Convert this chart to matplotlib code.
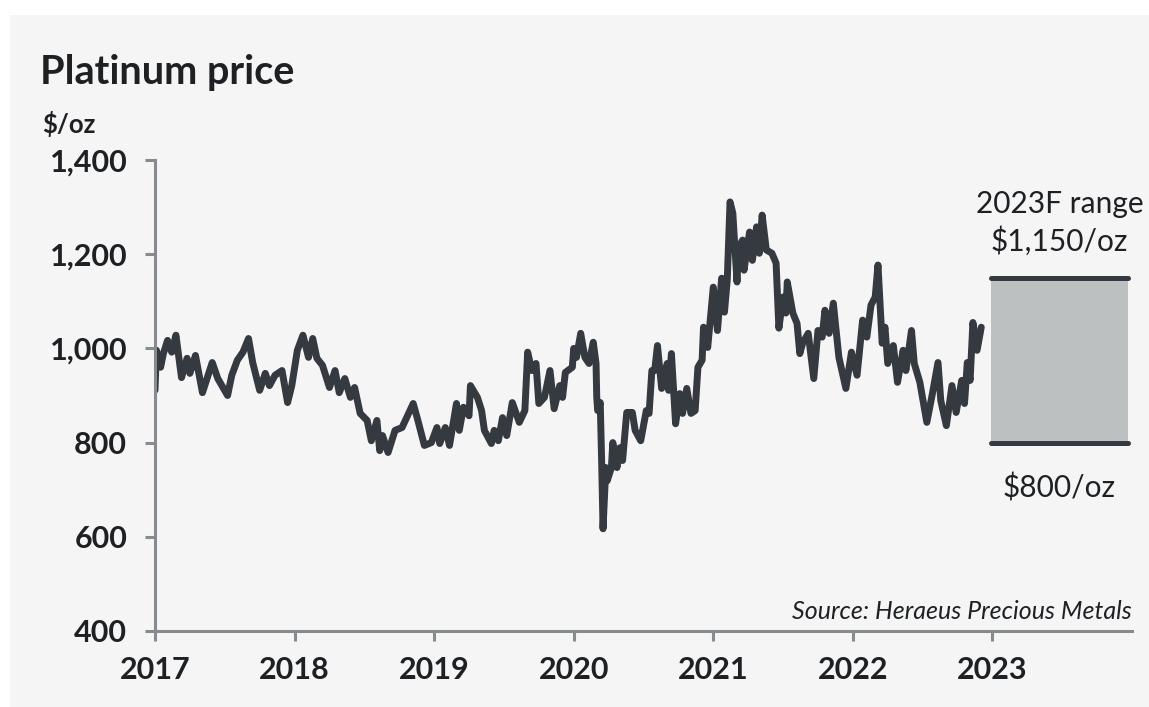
import matplotlib
matplotlib.use("Agg")
from matplotlib import pyplot as plt
from matplotlib.patches import Rectangle

plt.rcParams['font.family'] = ['Lato', 'DejaVu Sans']

# platinum price, $/oz (decimal year, value)
dates = [2017.00, 2017.01, 2017.04, 2017.06, 2017.09, 2017.12, 2017.15, 2017.19, 2017.23, 2017.25,
         2017.29, 2017.34, 2017.41, 2017.45, 2017.52, 2017.55, 2017.59, 2017.63, 2017.67, 2017.70,
         2017.75, 2017.79, 2017.82, 2017.86, 2017.91, 2017.95, 2017.98, 2018.02, 2018.06, 2018.10,
         2018.13, 2018.16, 2018.20, 2018.25, 2018.29, 2018.32, 2018.36, 2018.40, 2018.43, 2018.47,
         2018.52, 2018.55, 2018.59, 2018.61, 2018.63, 2018.67, 2018.72, 2018.77, 2018.80, 2018.85,
         2018.88, 2018.93, 2018.98, 2019.02, 2019.04, 2019.08, 2019.11, 2019.16, 2019.18, 2019.21,
         2019.25, 2019.26, 2019.31, 2019.34, 2019.36, 2019.41, 2019.43, 2019.46, 2019.49, 2019.52,
         2019.56, 2019.61, 2019.65, 2019.67, 2019.70, 2019.73, 2019.75, 2019.79, 2019.83, 2019.86,
         2019.90, 2019.92, 2019.94, 2019.99, 2020.00, 2020.02, 2020.05, 2020.08, 2020.11, 2020.14,
         2020.16, 2020.165, 2020.172, 2020.19, 2020.20, 2020.21, 2020.23, 2020.24, 2020.27, 2020.28,
         2020.31, 2020.33, 2020.35, 2020.38, 2020.42, 2020.44, 2020.48, 2020.52, 2020.54, 2020.56,
         2020.58, 2020.60, 2020.63, 2020.67, 2020.68, 2020.70, 2020.73, 2020.76, 2020.78, 2020.81,
         2020.84, 2020.87, 2020.89, 2020.92, 2020.93, 2020.96, 2021.00, 2021.03, 2021.06, 2021.08,
         2021.10, 2021.12, 2021.14, 2021.17, 2021.18, 2021.21, 2021.22, 2021.26, 2021.28, 2021.31,
         2021.33, 2021.35, 2021.38, 2021.42, 2021.45, 2021.47, 2021.50, 2021.52, 2021.53, 2021.57,
         2021.60, 2021.62, 2021.64, 2021.68, 2021.72, 2021.75, 2021.78, 2021.80, 2021.83, 2021.86,
         2021.90, 2021.95, 2021.99, 2022.03, 2022.07, 2022.10, 2022.13, 2022.16, 2022.18, 2022.21,
         2022.23, 2022.25, 2022.29, 2022.32, 2022.36, 2022.38, 2022.42, 2022.44, 2022.48, 2022.53,
         2022.57, 2022.61, 2022.63, 2022.67, 2022.71, 2022.74, 2022.78, 2022.80, 2022.82, 2022.84,
         2022.86, 2022.89, 2022.92]
prices = [911, 996, 960, 989, 1017, 992, 1028, 938, 979, 947,
          985, 906, 970, 936, 900, 943, 975, 992, 1021, 970,
          911, 947, 921, 943, 953, 885, 921, 996, 1028, 981,
          1021, 979, 964, 917, 953, 906, 936, 896, 917, 862,
          847, 804, 847, 783, 815, 779, 826, 832, 851, 883,
          851, 794, 800, 832, 798, 832, 794, 883, 826, 875,
          857, 921, 896, 868, 826, 798, 826, 804, 853, 815,
          885, 843, 868, 992, 953, 968, 883, 896, 953, 872,
          921, 896, 949, 960, 1000, 981, 1032, 981, 968, 1013,
          968, 896, 868, 885, 762, 617, 747, 719, 747, 800,
          747, 789, 762, 864, 864, 826, 804, 868, 862, 953,
          953, 1006, 915, 968, 911, 989, 840, 904, 862, 915,
          862, 868, 960, 975, 1045, 1002, 1130, 1038, 1149, 1077,
          1145, 1311, 1287, 1141, 1213, 1230, 1166, 1247, 1187, 1258,
          1202, 1283, 1209, 1202, 1181, 1043, 1109, 1075, 1141, 1075,
          1053, 989, 1011, 1032, 936, 1038, 1024, 1081, 1032, 1096,
          981, 915, 992, 943, 1060, 1024, 1092, 1109, 1177, 1011,
          1045, 968, 1006, 928, 996, 953, 1038, 968, 928, 843,
          904, 970, 889, 836, 921, 864, 932, 883, 970, 932,
          1055, 996, 1045]

# 2023 forecast range
range_low = 800
range_high = 1150
range_title = "2023F range"
range_labels = ["$1,150/oz", "$800/oz"]

years = [2017, 2018, 2019, 2020, 2021, 2022, 2023]
yticks = [400, 600, 800, 1000, 1200, 1400]

dark = "#343a40"
axis_grey = "#878b8d"
text_col = "#1e2124"

fig = plt.figure(figsize=(11.49, 7.07), dpi=100, facecolor="white")
# light grey panel behind everything
fig.patches.append(Rectangle((10 / 1149, 0), 1, 1 - 15 / 707, transform=fig.transFigure,
                             facecolor="#f5f5f5", edgecolor="none", zorder=-10))

ax = fig.add_axes([155 / 1149, 1 - 631 / 707, (1132 - 155) / 1149, (631 - 160) / 707])
ax.set_facecolor("none")
ax.set_zorder(5)

ax.plot(dates, prices, color=dark, linewidth=5.0, solid_joinstyle="round", solid_capstyle="round")

# forecast range box
ax.fill_between([2022.99, 2023.97], range_low, range_high, color="#bcc0c1", linewidth=0)
ax.hlines([range_low, range_high], 2022.99, 2023.97, color=dark, linewidth=3.6, capstyle="round")
ax.text(2023.48, 1287, range_title, ha="center", va="baseline", fontsize=21.5, color=text_col)
ax.text(2023.48, 1208, range_labels[0], ha="center", va="baseline", fontsize=21.5, color=text_col)
ax.text(2023.48, 683, range_labels[1], ha="center", va="baseline", fontsize=21.5, color=text_col)

ax.text(2024.0, 425, "Source: Heraeus Precious Metals", ha="right", va="baseline",
        fontsize=18, style="italic", color=text_col)

ax.set_xlim(2017, 2024)
ax.set_ylim(400, 1400)
ax.set_xticks(years)
ax.set_xticklabels([str(y) for y in years])
ax.set_yticks(yticks)
ax.set_yticklabels([f"{v:,}" for v in yticks])

for s in ["top", "right"]:
    ax.spines[s].set_visible(False)
for s in ["left", "bottom"]:
    ax.spines[s].set_color(axis_grey)
    ax.spines[s].set_linewidth(2.2)
ax.tick_params(axis="both", length=7, width=2.2, color=axis_grey, pad=13,
               labelsize=22, labelcolor=text_col)
ax.tick_params(axis="x", pad=11)
for lab in ax.get_xticklabels() + ax.get_yticklabels():
    lab.set_fontweight("bold")

fig.text(40 / 1149, 1 - 84 / 707, "Platinum price", fontsize=28.5, fontweight="bold",
         color=text_col, ha="left", va="baseline")
fig.text(42 / 1149, 1 - 133 / 707, "$/oz", fontsize=18.5, fontweight="bold",
         color=text_col, ha="left", va="baseline")

fig.savefig("out.png", dpi=100, facecolor="white")
